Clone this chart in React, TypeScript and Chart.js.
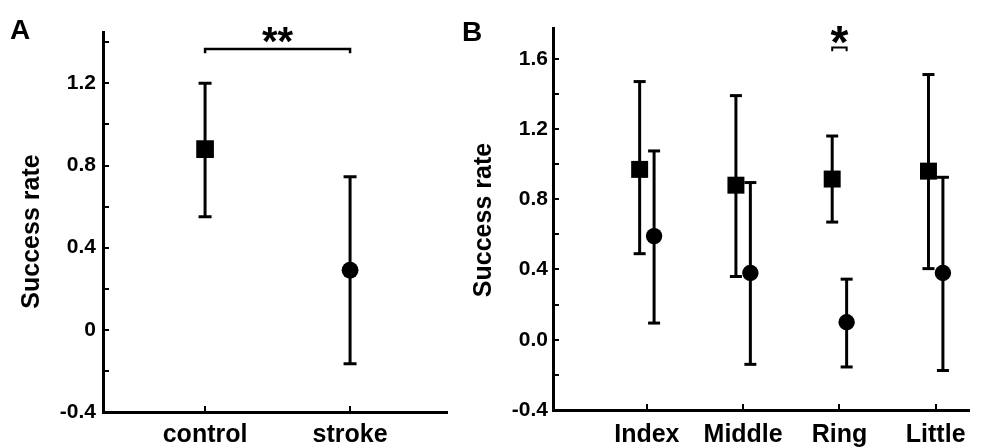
import React, { useEffect, useRef } from 'react';
import { Chart, registerables } from 'chart.js';

Chart.register(...registerables);

const FONT = "'Liberation Sans', Arial, Helvetica, sans-serif";

// ---------- Panel A data ----------
const groupsA = ['control', 'stroke'];
const meanA = [0.88, 0.29];
const upperA = [1.2, 0.745];
const lowerA = [0.55, -0.165];
const yMajorA = [-0.4, 0, 0.4, 0.8, 1.2];
const yMajorLabelsA = ['-0.4', '0', '0.4', '0.8', '1.2'];
const yMinorA = [-0.2, 0.2, 0.6, 1.0, 1.4];
const sigPairA = [0, 1];
const sigLevelA = 1.367;
const sigLabelA = '**';

// ---------- Panel B data ----------
const fingers = ['Index', 'Middle', 'Ring', 'Little'];
const controlMeanB = [0.97, 0.88, 0.915, 0.96];
const controlUpperB = [1.47, 1.39, 1.16, 1.51];
const controlLowerB = [0.49, 0.36, 0.67, 0.405];
const strokeMeanB = [0.59, 0.38, 0.1, 0.38];
const strokeUpperB = [1.075, 0.895, 0.345, 0.925];
const strokeLowerB = [0.095, -0.14, -0.155, -0.175];
const yMajorB = [-0.4, 0, 0.4, 0.8, 1.2, 1.6];
const yMajorLabelsB = ['-0.4', '0.0', '0.4', '0.8', '1.2', '1.6'];
const yMinorB = [-0.2, 0.2, 0.6, 1.0, 1.4];
const sigFingerB = 2;
const sigLevelB = 1.664;
const sigLabelB = '*';

const yTitle = 'Success rate';

// ---------- helpers ----------
function labelFor(v: number, majors: number[], labels: string[]) {
  const i = majors.findIndex((m) => Math.abs(m - v) < 1e-6);
  return i >= 0 ? labels[i] : '';
}

function errorBar(x: number, lo: number, hi: number, cap: number) {
  return {
    type: 'line' as const,
    data: [
      { x, y: lo },
      { x, y: hi },
    ],
    borderColor: '#000',
    borderWidth: 3,
    pointStyle: 'line' as const,
    pointRadius: cap,
    pointBorderWidth: 3,
    pointBorderColor: '#000',
    pointBackgroundColor: '#000',
    fill: false,
    tension: 0,
  };
}

function marker(points: { x: number; y: number }[], style: 'rect' | 'circle', r: number) {
  return {
    type: 'scatter' as const,
    data: points,
    pointStyle: style,
    pointRadius: r,
    backgroundColor: '#000',
    borderColor: '#000',
    borderWidth: 0,
  };
}

function bracket(x0: number, x1: number, y: number, leg: number, w: number) {
  return {
    type: 'line' as const,
    data: [
      { x: x0, y: y - leg },
      { x: x0, y },
      { x: x1, y },
      { x: x1, y: y - leg },
    ],
    borderColor: '#000',
    borderWidth: w,
    pointRadius: 0,
    fill: false,
    tension: 0,
  };
}

const innerTicks = {
  id: 'innerTicks',
  afterDraw(chart: any) {
    const { ctx, chartArea, scales } = chart;
    const x = scales.x;
    const y = scales.y;
    ctx.save();
    ctx.strokeStyle = '#000';
    ctx.lineWidth = 2;
    ctx.beginPath();
    y.ticks.forEach((t: any) => {
      const py = Math.round(y.getPixelForValue(t.value));
      ctx.moveTo(chartArea.left, py);
      ctx.lineTo(chartArea.left + 6, py);
    });
    x.ticks.forEach((t: any) => {
      const px = Math.round(x.getPixelForValue(t.value));
      ctx.moveTo(px, chartArea.bottom);
      ctx.lineTo(px, chartArea.bottom - 6);
    });
    ctx.stroke();
    ctx.restore();
  },
};

function sigText(label: string, xv: number, yv: number, size: number, dy: number) {
  return {
    id: 'sigText',
    afterDatasetsDraw(chart: any) {
      const { ctx, scales } = chart;
      ctx.save();
      ctx.font = `bold ${size}px ${FONT}`;
      ctx.fillStyle = '#000';
      ctx.textAlign = 'center';
      ctx.textBaseline = 'alphabetic';
      ctx.fillText(label, scales.x.getPixelForValue(xv), scales.y.getPixelForValue(yv) + dy);
      ctx.restore();
    },
  };
}

function axisTitle(text: string, cx: number, dy: number) {
  return {
    id: 'axisTitle',
    afterDraw(chart: any) {
      const { ctx, chartArea } = chart;
      ctx.save();
      ctx.translate(cx, (chartArea.top + chartArea.bottom) / 2 + dy);
      ctx.rotate(-Math.PI / 2);
      ctx.font = `bold 25px ${FONT}`;
      ctx.fillStyle = '#000';
      ctx.textAlign = 'center';
      ctx.textBaseline = 'middle';
      ctx.fillText(text, 0, 0);
      ctx.restore();
    },
  };
}

function baseOptions(opts: {
  xMin: number; xMax: number; cats: string[];
  yMin: number; yMax: number; majors: number[]; majorLabels: string[]; minors: number[];
  yWidth: number; xHeight: number; labelPadX: number; labelPadY: number;
  padTop: number; padRight: number;
}) {
  const allY = [...opts.majors, ...opts.minors].sort((a, b) => a - b);
  return {
    animation: false as const,
    responsive: false,
    events: [] as any[],
    layout: { padding: { left: 0, right: opts.padRight, top: opts.padTop, bottom: 0 } },
    plugins: { legend: { display: false }, tooltip: { enabled: false } },
    scales: {
      x: {
        type: 'linear' as const,
        min: opts.xMin,
        max: opts.xMax,
        afterBuildTicks: (s: any) => {
          s.ticks = opts.cats.map((_, i) => ({ value: i }));
        },
        afterFit: (s: any) => {
          s.height = opts.xHeight;
          s.paddingLeft = 0;
          s.paddingRight = 0;
        },
        grid: { display: false, drawTicks: false },
        border: { display: true, color: '#000', width: 3 },
        ticks: {
          color: '#000',
          autoSkip: false,
          maxRotation: 0,
          padding: opts.labelPadX,
          font: { family: FONT, size: 25, weight: 'bold' as const },
          callback: (v: any) => opts.cats[Math.round(Number(v))] ?? '',
        },
      },
      y: {
        type: 'linear' as const,
        min: opts.yMin,
        max: opts.yMax,
        afterBuildTicks: (s: any) => {
          s.ticks = allY.map((v) => ({ value: v }));
        },
        afterFit: (s: any) => {
          s.width = opts.yWidth;
          s.paddingTop = 0;
          s.paddingBottom = 0;
        },
        grid: { display: false, drawTicks: false },
        border: { display: true, color: '#000', width: 3 },
        ticks: {
          color: '#000',
          autoSkip: false,
          padding: opts.labelPadY,
          font: { family: FONT, size: 21, weight: 'bold' as const },
          callback: (v: any) => labelFor(Number(v), opts.majors, opts.majorLabels),
        },
        title: { display: false },
      },
    },
  };
}

function configA(): any {
  const datasets: any[] = [];
  groupsA.forEach((_, i) => datasets.push(errorBar(i, lowerA[i], upperA[i], 6.5)));
  datasets.push(bracket(sigPairA[0], sigPairA[1], sigLevelA, 0.02, 2.5));
  datasets.push(marker([{ x: 0, y: meanA[0] }], 'rect', 12.5));
  datasets.push(marker([{ x: 1, y: meanA[1] }], 'circle', 8.4));
  return {
    type: 'scatter',
    data: { datasets },
    options: baseOptions({
      xMin: -0.704, xMax: 1.672, cats: groupsA,
      yMin: -0.4, yMax: 1.45, majors: yMajorA, majorLabels: yMajorLabelsA, minors: yMinorA,
      yWidth: 103, xHeight: 36, labelPadX: 8, labelPadY: 7,
      padTop: 32, padRight: 7,
    }),
    plugins: [
      innerTicks,
      axisTitle(yTitle, 32.5, 9.5),
      sigText(sigLabelA, (sigPairA[0] + sigPairA[1]) / 2, sigLevelA, 40, 6),
    ],
  };
}

function configB(): any {
  const off = 0.075;
  const datasets: any[] = [];
  fingers.forEach((_, i) => {
    datasets.push(errorBar(i - off, controlLowerB[i], controlUpperB[i], 6));
    datasets.push(errorBar(i + off, strokeLowerB[i], strokeUpperB[i], 6));
  });
  datasets.push(bracket(sigFingerB - off, sigFingerB + off, sigLevelB, 0.022, 2));
  datasets.push(marker(fingers.map((_, i) => ({ x: i - off, y: controlMeanB[i] })), 'rect', 12));
  datasets.push(marker(fingers.map((_, i) => ({ x: i + off, y: strokeMeanB[i] })), 'circle', 8.2));
  return {
    type: 'scatter',
    data: { datasets },
    options: baseOptions({
      xMin: -0.975, xMax: 3.346, cats: fingers,
      yMin: -0.4, yMax: 1.775, majors: yMajorB, majorLabels: yMajorLabelsB, minors: yMinorB,
      yWidth: 93, xHeight: 38, labelPadX: 10, labelPadY: 5,
      padTop: 28, padRight: 0,
    }),
    plugins: [
      innerTicks,
      axisTitle(yTitle, 24.5, 1),
      sigText(sigLabelB, sigFingerB, sigLevelB, 46, 10.5),
    ],
  };
}

export default function App() {
  const refA = useRef<HTMLCanvasElement>(null);
  const refB = useRef<HTMLCanvasElement>(null);

  useEffect(() => {
    const a = new Chart(refA.current as HTMLCanvasElement, configA());
    const b = new Chart(refB.current as HTMLCanvasElement, configB());
    return () => {
      a.destroy();
      b.destroy();
    };
  }, []);

  const letter: React.CSSProperties = {
    position: 'absolute',
    font: `bold 28px ${FONT}`,
    lineHeight: '28px',
    color: '#000',
    margin: 0,
  };

  return (
    <div
      style={{
        position: 'fixed',
        left: 0,
        top: 0,
        width: 981,
        height: 448,
        background: '#fff',
        overflow: 'hidden',
      }}
    >
      <canvas ref={refA} width={460} height={448} style={{ position: 'absolute', left: 0, top: 0 }} />
      <canvas ref={refB} width={521} height={448} style={{ position: 'absolute', left: 460, top: 0 }} />
      <div style={{ ...letter, left: 10, top: 16 }}>A</div>
      <div style={{ ...letter, left: 462, top: 17.5 }}>B</div>
    </div>
  );
}
